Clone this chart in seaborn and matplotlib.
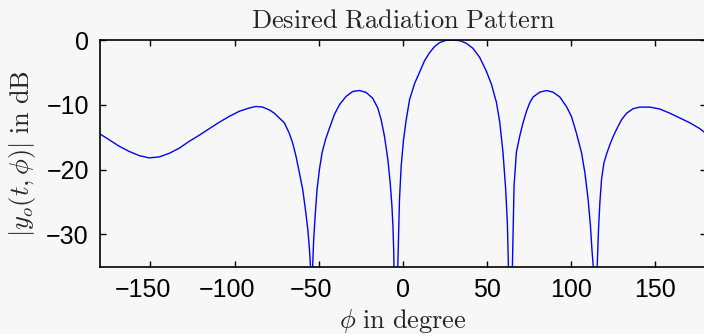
import matplotlib
matplotlib.use("Agg")
import matplotlib.pyplot as plt
import matplotlib.transforms as mtransforms
import seaborn as sns
import pandas as pd

# Angle samples (degrees) and pattern level (dB); nulls dip below the axis floor
phi_deg = [
    -180.0, -174.6, -168.6, -162.7, -156.7, -150.8, -144.8, -138.9, -132.9, -127.0,
    -121.0, -115.1, -109.1, -103.2, -97.2, -91.3, -87.3, -83.3, -79.3, -76.4,
    -73.4, -70.4, -67.5, -65.5, -63.5, -61.5, -59.5, -57.9, -56.5, -55.5,
    -54.9, -54.3, -53.6, -53.0, -52.0, -51.0, -49.6, -48.0, -46.0, -43.6,
    -40.7, -37.7, -33.7, -29.8, -25.8, -21.8, -17.9, -14.9, -12.9, -10.9,
    -8.9, -7.5, -6.5, -5.9, -5.4, -4.2, -3.0, -2.6, -2.0, -1.0,
    0.4, 2.0, 4.0, 7.0, 9.9, 12.9, 15.9, 18.9, 21.8, 25.8,
    29.8, 33.8, 37.7, 41.7, 45.7, 49.6, 52.6, 55.6, 57.6, 59.5,
    61.1, 62.1, 62.7, 63.8, 65.1, 66.1, 67.5, 69.5, 71.4, 73.5,
    75.4, 77.4, 81.4, 85.4, 89.3, 93.3, 97.3, 100.2, 103.2, 106.2,
    108.2, 110.1, 111.5, 112.5, 113.2, 114.3, 115.5, 116.3, 117.1, 118.1,
    119.5, 121.1, 123.0, 125.0, 127.0, 130.0, 133.0, 136.9, 140.9, 146.8,
    152.8, 158.7, 164.7, 170.7, 176.6, 180.0,
]
level_db = [
    -14.5, -15.4, -16.4, -17.2, -17.85, -18.2, -18.05, -17.5, -16.7, -15.65,
    -14.7, -13.7, -12.7, -11.8, -11.0, -10.5, -10.26, -10.36, -10.8, -11.3,
    -12.05, -12.8, -14.4, -15.9, -17.95, -20.5, -23.1, -26.2, -29.2, -32.3,
    -34.9, -60.0, -34.9, -30.8, -26.7, -23.1, -20.0, -17.4, -15.4, -13.6,
    -11.5, -10.0, -8.7, -7.95, -7.8, -8.1, -9.0, -10.5, -12.3, -14.9,
    -18.5, -22.1, -25.6, -28.7, -32.8, -60.0, -35.0, -30.8, -24.6, -19.5,
    -15.4, -12.3, -9.2, -6.7, -5.0, -3.2, -1.95, -1.0, -0.4, -0.05,
    0.0, -0.1, -0.5, -1.3, -2.7, -4.8, -6.8, -9.6, -12.7, -17.3,
    -23.0, -28.1, -34.3, -60.0, -35.0, -22.5, -17.3, -14.8, -12.8, -11.0,
    -9.7, -8.8, -8.05, -7.8, -8.05, -8.8, -10.3, -11.8, -14.4, -17.4,
    -20.5, -24.6, -28.7, -32.8, -35.0, -60.0, -35.0, -29.2, -25.1, -21.5,
    -19.0, -17.6, -16.2, -14.9, -13.8, -12.3, -11.3, -10.6, -10.36, -10.36,
    -10.66, -11.3, -12.05, -12.8, -13.7, -14.4,
]

x_ticks = [-150, -100, -50, 0, 50, 100, 150]
y_ticks = [0, -10, -20, -30]

bg = "#f7f7f7"
sns.set_style("ticks")
plt.rcParams["font.family"] = ["Liberation Sans", "DejaVu Sans"]
plt.rcParams["mathtext.fontset"] = "cm"

fig = plt.figure(figsize=(7.04, 3.34), dpi=100, facecolor=bg)
ax = fig.add_axes([100 / 704, 1 - 266.7 / 334, 605.7 / 704, 226.7 / 334])
ax.set_facecolor(bg)

df = pd.DataFrame({"phi": phi_deg, "db": level_db})
sns.lineplot(data=df, x="phi", y="db", ax=ax, color="#0000ff",
             linewidth=1.0, estimator=None)

ax.set_xlim(-180, 180)
ax.set_ylim(-35, 0)
ax.set_xticks(x_ticks)
ax.set_yticks(y_ticks)
ax.tick_params(direction="in", length=4, width=1.0, top=True, right=True,
               labelsize=18, pad=8, colors="black")
for s in ax.spines.values():
    s.set_linewidth(1.2)
    s.set_color("black")

# keep the digits of negative labels centred on the tick, minus sign hanging left
shift = mtransforms.ScaledTranslation(-8 / 100, 0, fig.dpi_scale_trans)
for tick_val, lab in zip(x_ticks, ax.get_xticklabels()):
    if tick_val < 0:
        lab.set_transform(lab.get_transform() + shift)

ax.set_title(r"$\mathrm{Desired\ Radiation\ Pattern}$", fontsize=19, pad=9)
ax.set_xlabel(r"$\phi\ \mathrm{in\ degree}$", fontsize=19, labelpad=4)
ax.set_ylabel(r"$|y_o(t,\phi)|\ \mathrm{in\ dB}$", fontsize=19, labelpad=6)

fig.savefig("out.png", dpi=100, facecolor=bg)
